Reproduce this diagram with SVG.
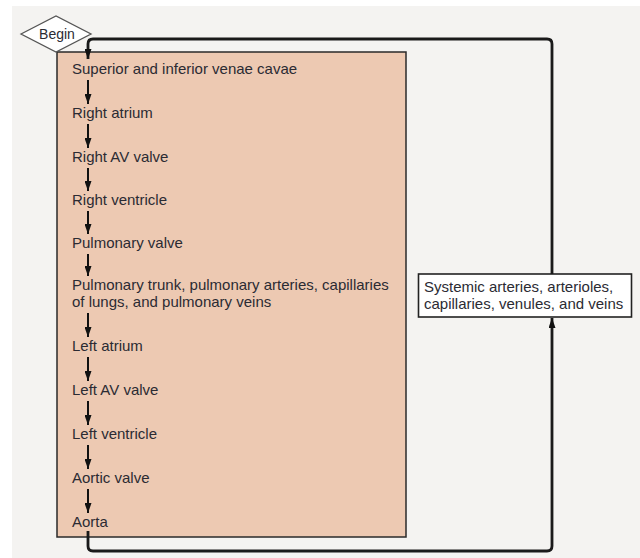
<svg xmlns="http://www.w3.org/2000/svg" width="640" height="558" viewBox="0 0 640 558">
<style>
.t{font-family:"Liberation Sans",Arial,sans-serif;font-size:15px;fill:#2b2b33;}
.step{stroke:#111;stroke-width:2;fill:none;}
.loop{stroke:#1a1a1a;stroke-width:2.8;fill:none;}
</style>
<defs>
<marker id="ah" viewBox="0 0 10 7" refX="10" refY="3.5" markerWidth="10" markerHeight="7" markerUnits="userSpaceOnUse" orient="auto">
<path d="M0,0 L10,3.5 L0,7 z" fill="#111"/>
</marker>
</defs>
<rect x="0" y="0" width="640" height="558" fill="#ffffff"/>
<rect x="12" y="6" width="628" height="552" fill="#f4f3f1"/>

<g id="heart">
<rect x="57" y="52" width="349" height="485" fill="#edc9b2" stroke="#2a2a2a" stroke-width="1.5"/>
<g id="venae-cavae"><text class="t" x="72" y="74">Superior and inferior venae cavae</text></g>
<g id="right-atrium"><text class="t" x="72" y="118">Right atrium</text></g>
<g id="right-av-valve"><text class="t" x="72" y="162">Right AV valve</text></g>
<g id="right-ventricle"><text class="t" x="72" y="205">Right ventricle</text></g>
<g id="pulmonary-valve"><text class="t" x="72" y="248">Pulmonary valve</text></g>
<g id="pulmonary-circuit"><text class="t" x="72" y="290">Pulmonary trunk, pulmonary arteries, capillaries<tspan x="72" dy="17">of lungs, and pulmonary veins</tspan></text></g>
<g id="left-atrium"><text class="t" x="72" y="351">Left atrium</text></g>
<g id="left-av-valve"><text class="t" x="72" y="395">Left AV valve</text></g>
<g id="left-ventricle"><text class="t" x="72" y="439">Left ventricle</text></g>
<g id="aortic-valve"><text class="t" x="72" y="483">Aortic valve</text></g>
<g id="aorta"><text class="t" x="72" y="527">Aorta</text></g>
</g>

<g id="begin">
<polygon points="21,34 56,16 91,34 56,52" fill="#ffffff" stroke="#555" stroke-width="1.3"/>
<text class="t" x="57" y="39" text-anchor="middle" style="font-size:14px">Begin</text>
</g>

<g id="systemic">
<rect x="418.5" y="274" width="213" height="43" fill="#ffffff" stroke="#222" stroke-width="1.6"/>
<text class="t" x="424" y="292">Systemic arteries, arterioles,<tspan x="424" dy="17">capillaries, venules, and veins</tspan></text>
</g>

<g id="connectors">
<line class="step" x1="88" y1="80" x2="88" y2="104" marker-end="url(#ah)"/>
<line class="step" x1="88" y1="124" x2="88" y2="148" marker-end="url(#ah)"/>
<line class="step" x1="88" y1="168" x2="88" y2="191" marker-end="url(#ah)"/>
<line class="step" x1="88" y1="211" x2="88" y2="234" marker-end="url(#ah)"/>
<line class="step" x1="88" y1="254" x2="88" y2="276" marker-end="url(#ah)"/>
<line class="step" x1="88" y1="313" x2="88" y2="337" marker-end="url(#ah)"/>
<line class="step" x1="88" y1="357" x2="88" y2="381" marker-end="url(#ah)"/>
<line class="step" x1="88" y1="401" x2="88" y2="425" marker-end="url(#ah)"/>
<line class="step" x1="88" y1="445" x2="88" y2="469" marker-end="url(#ah)"/>
<line class="step" x1="88" y1="489" x2="88" y2="513" marker-end="url(#ah)"/>
<path class="loop" d="M88,531 V546 Q88,551 93,551 H547 Q552,551 552,546 V318" marker-end="url(#ah)"/>
<path class="loop" d="M552,274 V44 Q552,39 547,39 H93 Q88,39 88,44 V59" marker-end="url(#ah)"/>
</g>
</svg>
